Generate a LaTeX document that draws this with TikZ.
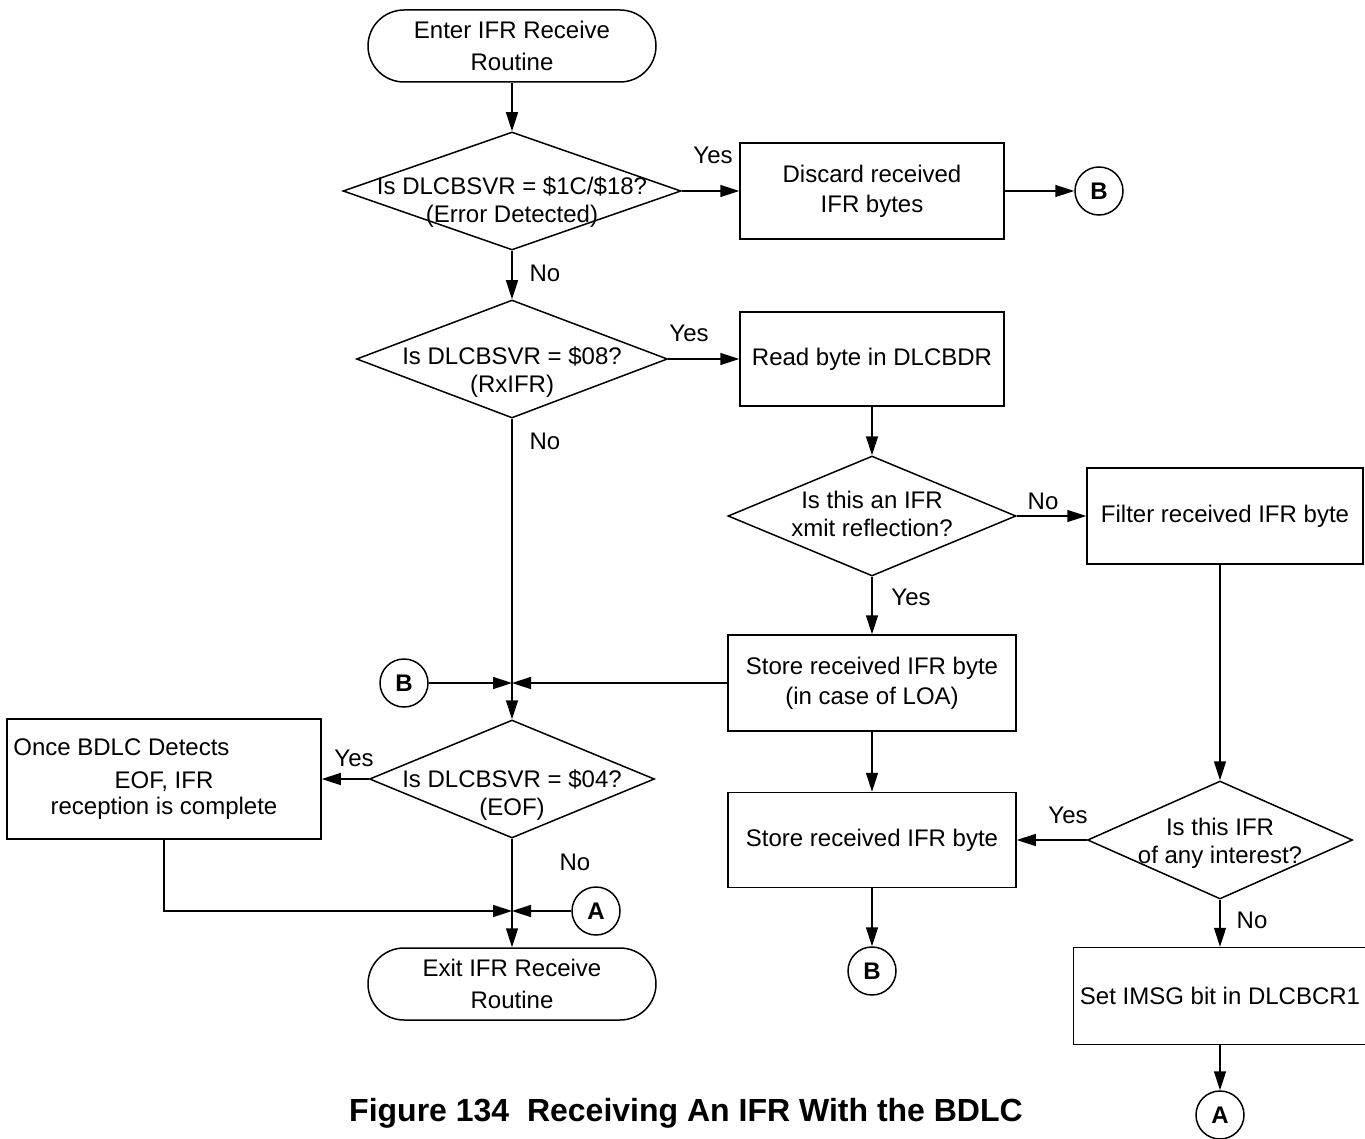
\documentclass[tikz,border=0pt]{standalone}
\usepackage{fontspec}
\setmainfont{Liberation Sans}
\usetikzlibrary{shapes,arrows.meta,positioning}

% text of a decision, kept out of the diamond's size
\newcommand{\qtext}[2][0pt]{\raisebox{#1}[0pt][0pt]{\makebox[0pt]{\fontsize{12}{14}\selectfont\begin{tabular}{@{}c@{}}#2\end{tabular}}}}

\begin{document}
\begin{tikzpicture}[x=0.5pt, y=-0.5pt,
    every node/.style={font=\fontsize{12}{15}\selectfont},
    term/.style={draw, rounded corners=18pt, minimum width=144pt, minimum height=36pt, align=center, line width=0.75pt, font=\fontsize{12}{16}\selectfont},
    proc/.style={draw, align=center, line width=0.75pt},
    decision/.style={diamond, draw, inner sep=0pt, line width=0.75pt},
    conn/.style={circle, draw, inner sep=0pt, minimum size=24pt, line width=0.75pt, font=\fontsize{12}{15}\selectfont\bfseries},
    lbl/.style={inner sep=0pt},
    flow/.style={-{Triangle[length=9.5pt,width=6pt]}, line width=0.75pt}]
  \useasboundingbox (0,0) rectangle (1365,1139);
  % Start and end
  \node[term] (start) at (512,46) {Enter IFR Receive\\Routine};
  \node[term] (exit) at (512,984) {Exit IFR Receive\\Routine};
  % Decisions
  \node[decision, minimum width=169pt, minimum height=59pt] (dErr) at (512,191) {\qtext[-8.75pt]{Is DLCBSVR = \$1C/\$18?\\(Error Detected)}};
  \node[decision, minimum width=155.5pt, minimum height=59pt] (dRx) at (512,359) {\qtext[-10pt]{Is DLCBSVR = \$08?\\(RxIFR)}};
  \node[decision, minimum width=144pt, minimum height=60pt] (dRefl) at (872,516) {\qtext[-3.5pt]{Is this an IFR\\xmit reflection?}};
  \node[decision, minimum width=142.5pt, minimum height=59pt] (dEOF) at (512,779) {\qtext[-11.5pt]{Is DLCBSVR = \$04?\\(EOF)}};
  \node[decision, minimum width=132.5pt, minimum height=59pt] (dInt) at (1220,840) {\qtext[-5pt]{Is this IFR\\of any interest?}};
  % Process boxes
  \node[proc, minimum width=132pt, minimum height=48pt] (discard) at (872,191) {Discard received\\IFR bytes};
  \node[proc, minimum width=132pt, minimum height=47pt] (read) at (872,359) {Read byte in DLCBDR};
  \node[proc, minimum width=138pt, minimum height=48pt] (filter) at (1225,516) {Filter received IFR byte};
  \node[proc, minimum width=144pt, minimum height=48pt] (storeLoa) at (872,683) {Store received IFR byte\\(in case of LOA)};
  \node[proc, minimum width=144pt, minimum height=47.5pt] (store) at (872,840) {Store received IFR byte};
  \node[proc, minimum width=144pt, minimum height=48.5pt] (setMsg) at (1220,996) {Set IMSG bit in DLCBCR1};
  \node[proc, minimum width=157pt, minimum height=60pt] (once) at (164,779) {};
  \node[lbl, anchor=west] (onceA) at (13,747) {Once BDLC Detects};
  \node[lbl] (onceB) at (164,782) {EOF, IFR};
  \node[lbl] (onceC) at (164,808) {reception is complete};
  % Connectors
  \node[conn] (bTop) at (1099,191) {B};
  \node[conn] (bLeft) at (404,683) {B};
  \node[conn] (bBot) at (872,971) {B};
  \node[conn] (aMid) at (596,911) {A};
  \node[conn] (aBot) at (1220,1115) {A};
  \coordinate (j1) at (dRx.south |- storeLoa.west);
  \coordinate (j2) at (dEOF.south |- aMid.west);
  % Flow lines
  \draw[flow] (start) -- (dErr);
  \draw[flow] (dErr) -- (discard);
  \draw[flow] (discard) -- (bTop);
  \draw[flow] (dErr) -- (dRx);
  \draw[flow] (dRx) -- (read);
  \draw[flow] (read) -- (dRefl);
  \draw[flow] (dRefl) -- (filter);
  \draw[flow] (dRefl) -- (storeLoa);
  \draw[flow] (dRx) -- (dEOF);
  \draw[flow] (storeLoa) -- (j1);
  \draw[flow] (bLeft) -- (j1);
  \draw[flow] (dEOF) -- (once);
  \draw[flow] (dEOF) -- (exit);
  \draw[flow] (once) |- (j2);
  \draw[flow] (aMid) -- (j2);
  \draw[flow] (storeLoa) -- (store);
  \draw[flow] (store) -- (bBot);
  \draw[flow] (filter.south -| dInt.north) -- (dInt);
  \draw[flow] (dInt) -- (store);
  \draw[flow] (dInt) -- (setMsg);
  \draw[flow] (setMsg) -- (aBot);
  % Yes / No
  \node[lbl] (yErr) at (713,155) {Yes};
  \node[lbl] (nErr) at (545,273) {No};
  \node[lbl] (yRx) at (689,333) {Yes};
  \node[lbl] (nRx) at (545,441) {No};
  \node[lbl] (nRefl) at (1043,501) {No};
  \node[lbl] (yRefl) at (911,597) {Yes};
  \node[lbl] (yEOF) at (354,758) {Yes};
  \node[lbl] (nEOF) at (575,862) {No};
  \node[lbl] (yInt) at (1068,815) {Yes};
  \node[lbl] (nInt) at (1252,920) {No};
  % Caption
  \node[font=\fontsize{16}{19}\selectfont\bfseries] (title) at (686,1113) {Figure 134\ \ Receiving An IFR With the BDLC};
\end{tikzpicture}
\end{document}
